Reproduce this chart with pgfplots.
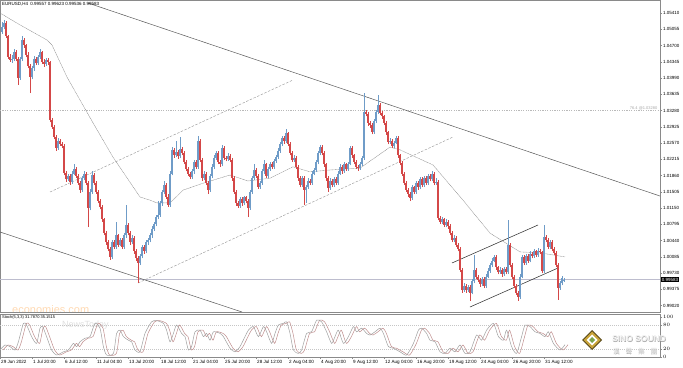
\documentclass[border=0pt]{standalone}
\usepackage{pgfplots}
\pgfplotsset{compat=1.18}
\usepackage{pgfplotstable}
\usepackage{fontspec}
\setmainfont{Liberation Sans}
\newfontfamily\cjk{Noto Sans CJK TC}
\definecolor{bull}{HTML}{6F9CC8}
\definecolor{bear}{HTML}{D44848}
\definecolor{axgray}{HTML}{8A8A8A}
\definecolor{goldA}{HTML}{C9A43A}
\definecolor{goldB}{HTML}{5A4A1A}
\definecolor{greenL}{HTML}{7AA34A}

\pgfplotstableread{
b o h l c
1 1.0500 1.0522 1.0496 1.0510
2 1.0510 1.0526 1.0505 1.0519
3 1.0519 1.0523 1.0486 1.0490
4 1.0490 1.0494 1.0440 1.0445
5 1.0445 1.0452 1.0434 1.0438
6 1.0438 1.0450 1.0432 1.0441
7 1.0441 1.0462 1.0437 1.0456
8 1.0456 1.0460 1.0436 1.0440
9 1.0440 1.0444 1.0384 1.0399
10 1.0399 1.0445 1.0395 1.0440
11 1.0440 1.0490 1.0436 1.0482
12 1.0482 1.0486 1.0465 1.0470
13 1.0470 1.0474 1.0444 1.0450
14 1.0450 1.0455 1.0420 1.0425
15 1.0425 1.0430 1.0366 1.0401
16 1.0401 1.0425 1.0396 1.0420
17 1.0420 1.0446 1.0415 1.0440
18 1.0440 1.0444 1.0427 1.0432
19 1.0432 1.0450 1.0428 1.0445
20 1.0445 1.0462 1.0440 1.0455
21 1.0455 1.0458 1.0430 1.0435
22 1.0435 1.0440 1.0424 1.0430
23 1.0430 1.0443 1.0426 1.0438
24 1.0438 1.0442 1.0428 1.0434
25 1.0434 1.0437 1.0302 1.0307
26 1.0307 1.0312 1.0288 1.0292
27 1.0292 1.0296 1.0265 1.0270
28 1.0270 1.0274 1.0240 1.0246
29 1.0246 1.0268 1.0242 1.0262
30 1.0262 1.0266 1.0250 1.0255
31 1.0255 1.0259 1.0245 1.0250
32 1.0250 1.0254 1.0186 1.0191
33 1.0191 1.0196 1.0172 1.0178
34 1.0178 1.0190 1.0174 1.0185
35 1.0185 1.0189 1.0166 1.0172
36 1.0172 1.0195 1.0168 1.0190
37 1.0190 1.0210 1.0186 1.0200
38 1.0200 1.0204 1.0180 1.0185
39 1.0185 1.0189 1.0165 1.0170
40 1.0170 1.0174 1.0148 1.0154
41 1.0154 1.0185 1.0150 1.0180
42 1.0180 1.0196 1.0176 1.0190
43 1.0190 1.0194 1.0165 1.0170
44 1.0170 1.0174 1.0073 1.0115
45 1.0115 1.0156 1.0110 1.0150
46 1.0150 1.0195 1.0146 1.0187
47 1.0187 1.0191 1.0165 1.0170
48 1.0170 1.0175 1.0145 1.0150
49 1.0150 1.0154 1.0125 1.0130
50 1.0130 1.0135 1.0112 1.0117
51 1.0117 1.0121 1.0085 1.0090
52 1.0090 1.0094 1.0055 1.0060
53 1.0060 1.0064 1.0035 1.0040
54 1.0040 1.0045 1.0020 1.0025
55 1.0025 1.0029 1.0002 1.0008
56 1.0008 1.0045 1.0004 1.0040
57 1.0040 1.0044 1.0025 1.0030
58 1.0030 1.0085 1.0026 1.0055
59 1.0055 1.0059 1.0030 1.0035
60 1.0035 1.0050 1.0031 1.0045
61 1.0045 1.0049 1.0025 1.0030
62 1.0030 1.0060 1.0026 1.0055
63 1.0055 1.0121 1.0050 1.0078
64 1.0078 1.0082 1.0055 1.0060
65 1.0060 1.0064 1.0035 1.0040
66 1.0040 1.0055 1.0036 1.0050
67 1.0050 1.0054 1.0015 1.0020
68 1.0020 1.0025 1.0000 1.0005
69 1.0005 1.0010 0.9952 0.9995
70 0.9995 1.0015 0.9990 1.0010
71 1.0010 1.0035 1.0005 1.0030
72 1.0030 1.0034 1.0015 1.0020
73 1.0020 1.0045 1.0016 1.0040
74 1.0040 1.0050 1.0035 1.0045
75 1.0045 1.0060 1.0040 1.0055
76 1.0055 1.0075 1.0050 1.0070
77 1.0070 1.0085 1.0065 1.0080
78 1.0080 1.0100 1.0075 1.0095
79 1.0095 1.0130 1.0090 1.0100
80 1.0100 1.0130 1.0096 1.0125
81 1.0125 1.0155 1.0120 1.0150
82 1.0150 1.0175 1.0145 1.0165
83 1.0165 1.0169 1.0135 1.0140
84 1.0140 1.0145 1.0118 1.0122
85 1.0122 1.0195 1.0118 1.0190
86 1.0190 1.0248 1.0186 1.0242
87 1.0242 1.0246 1.0225 1.0230
88 1.0230 1.0262 1.0226 1.0238
89 1.0238 1.0242 1.0222 1.0228
90 1.0228 1.0270 1.0224 1.0244
91 1.0244 1.0248 1.0230 1.0236
92 1.0236 1.0240 1.0210 1.0215
93 1.0215 1.0219 1.0195 1.0200
94 1.0200 1.0204 1.0185 1.0190
95 1.0190 1.0194 1.0178 1.0183
96 1.0183 1.0200 1.0179 1.0195
97 1.0195 1.0220 1.0190 1.0215
98 1.0215 1.0219 1.0200 1.0205
99 1.0205 1.0272 1.0200 1.0262
100 1.0262 1.0266 1.0215 1.0220
101 1.0220 1.0224 1.0175 1.0180
102 1.0180 1.0195 1.0176 1.0190
103 1.0190 1.0194 1.0165 1.0170
104 1.0170 1.0174 1.0145 1.0154
105 1.0154 1.0190 1.0150 1.0185
106 1.0185 1.0210 1.0180 1.0205
107 1.0205 1.0230 1.0200 1.0225
108 1.0225 1.0240 1.0220 1.0235
109 1.0235 1.0239 1.0210 1.0215
110 1.0215 1.0219 1.0205 1.0210
111 1.0210 1.0252 1.0206 1.0246
112 1.0246 1.0250 1.0220 1.0225
113 1.0225 1.0229 1.0217 1.0222
114 1.0222 1.0235 1.0218 1.0228
115 1.0228 1.0232 1.0215 1.0220
116 1.0220 1.0224 1.0175 1.0180
117 1.0180 1.0184 1.0145 1.0150
118 1.0150 1.0154 1.0120 1.0125
119 1.0125 1.0130 1.0115 1.0120
120 1.0120 1.0140 1.0116 1.0135
121 1.0135 1.0139 1.0120 1.0125
122 1.0125 1.0142 1.0121 1.0138
123 1.0138 1.0142 1.0125 1.0130
124 1.0130 1.0134 1.0095 1.0115
125 1.0115 1.0155 1.0111 1.0150
126 1.0150 1.0185 1.0146 1.0180
127 1.0180 1.0210 1.0176 1.0198
128 1.0198 1.0202 1.0180 1.0185
129 1.0185 1.0189 1.0156 1.0161
130 1.0161 1.0175 1.0157 1.0170
131 1.0170 1.0200 1.0166 1.0195
132 1.0195 1.0220 1.0190 1.0210
133 1.0210 1.0214 1.0180 1.0185
134 1.0185 1.0205 1.0181 1.0200
135 1.0200 1.0216 1.0196 1.0212
136 1.0212 1.0216 1.0200 1.0205
137 1.0205 1.0222 1.0201 1.0218
138 1.0218 1.0230 1.0214 1.0226
139 1.0226 1.0245 1.0222 1.0240
140 1.0240 1.0260 1.0236 1.0255
141 1.0255 1.0272 1.0250 1.0268
142 1.0268 1.0272 1.0255 1.0262
143 1.0262 1.0287 1.0258 1.0278
144 1.0278 1.0282 1.0250 1.0255
145 1.0255 1.0259 1.0230 1.0235
146 1.0235 1.0239 1.0215 1.0220
147 1.0220 1.0230 1.0216 1.0225
148 1.0225 1.0229 1.0200 1.0205
149 1.0205 1.0209 1.0175 1.0180
150 1.0180 1.0184 1.0160 1.0165
151 1.0165 1.0185 1.0161 1.0180
152 1.0180 1.0184 1.0121 1.0155
153 1.0155 1.0165 1.0126 1.0160
154 1.0160 1.0180 1.0156 1.0175
155 1.0175 1.0179 1.0165 1.0170
156 1.0170 1.0195 1.0166 1.0190
157 1.0190 1.0202 1.0186 1.0198
158 1.0198 1.0220 1.0194 1.0215
159 1.0215 1.0240 1.0210 1.0235
160 1.0235 1.0252 1.0230 1.0248
161 1.0248 1.0252 1.0230 1.0235
162 1.0235 1.0239 1.0205 1.0210
163 1.0210 1.0214 1.0175 1.0180
164 1.0180 1.0184 1.0150 1.0159
165 1.0159 1.0180 1.0155 1.0175
166 1.0175 1.0179 1.0160 1.0165
167 1.0165 1.0182 1.0161 1.0178
168 1.0178 1.0182 1.0165 1.0170
169 1.0170 1.0195 1.0166 1.0190
170 1.0190 1.0210 1.0186 1.0205
171 1.0205 1.0209 1.0190 1.0195
172 1.0195 1.0215 1.0191 1.0210
173 1.0210 1.0214 1.0196 1.0200
174 1.0200 1.0216 1.0196 1.0212
175 1.0212 1.0250 1.0208 1.0246
176 1.0246 1.0250 1.0225 1.0230
177 1.0230 1.0234 1.0210 1.0215
178 1.0215 1.0219 1.0200 1.0205
179 1.0205 1.0209 1.0196 1.0202
180 1.0202 1.0215 1.0198 1.0210
181 1.0210 1.0228 1.0206 1.0224
182 1.0224 1.0366 1.0220 1.0325
183 1.0325 1.0330 1.0315 1.0320
184 1.0320 1.0324 1.0295 1.0300
185 1.0300 1.0304 1.0290 1.0296
186 1.0296 1.0300 1.0276 1.0281
187 1.0281 1.0310 1.0277 1.0305
188 1.0305 1.0330 1.0300 1.0325
189 1.0325 1.0362 1.0320 1.0340
190 1.0340 1.0345 1.0318 1.0322
191 1.0322 1.0326 1.0310 1.0315
192 1.0315 1.0319 1.0296 1.0301
193 1.0301 1.0305 1.0275 1.0280
194 1.0280 1.0284 1.0254 1.0259
195 1.0259 1.0268 1.0255 1.0262
196 1.0262 1.0266 1.0245 1.0250
197 1.0250 1.0262 1.0246 1.0258
198 1.0258 1.0272 1.0254 1.0268
199 1.0268 1.0272 1.0225 1.0230
200 1.0230 1.0234 1.0208 1.0213
201 1.0213 1.0217 1.0185 1.0190
202 1.0190 1.0194 1.0165 1.0170
203 1.0170 1.0174 1.0150 1.0154
204 1.0154 1.0158 1.0140 1.0145
205 1.0145 1.0149 1.0130 1.0137
206 1.0137 1.0165 1.0133 1.0160
207 1.0160 1.0164 1.0145 1.0150
208 1.0150 1.0175 1.0146 1.0170
209 1.0170 1.0174 1.0155 1.0160
210 1.0160 1.0183 1.0156 1.0178
211 1.0178 1.0182 1.0160 1.0165
212 1.0165 1.0185 1.0161 1.0180
213 1.0180 1.0184 1.0165 1.0170
214 1.0170 1.0190 1.0166 1.0185
215 1.0185 1.0189 1.0173 1.0178
216 1.0178 1.0195 1.0174 1.0190
217 1.0190 1.0194 1.0165 1.0170
218 1.0170 1.0180 1.0166 1.0172
219 1.0172 1.0176 1.0088 1.0093
220 1.0093 1.0097 1.0080 1.0085
221 1.0085 1.0095 1.0081 1.0090
222 1.0090 1.0094 1.0073 1.0078
223 1.0078 1.0090 1.0074 1.0085
224 1.0085 1.0089 1.0070 1.0075
225 1.0075 1.0079 1.0055 1.0060
226 1.0060 1.0064 1.0040 1.0045
227 1.0045 1.0055 1.0041 1.0050
228 1.0050 1.0054 1.0030 1.0035
229 1.0035 1.0039 1.0020 1.0025
230 1.0025 1.0029 0.9975 0.9980
231 0.9980 0.9984 0.9930 0.9936
232 0.9936 0.9950 0.9932 0.9945
233 0.9945 0.9949 0.9930 0.9935
234 0.9935 0.9947 0.9931 0.9942
235 0.9942 0.9946 0.9912 0.9930
236 0.9930 0.9960 0.9926 0.9955
237 0.9955 1.0012 0.9950 0.9980
238 0.9980 0.9984 0.9960 0.9965
239 0.9965 0.9969 0.9953 0.9958
240 0.9958 0.9962 0.9943 0.9948
241 0.9948 0.9965 0.9944 0.9960
242 0.9960 0.9964 0.9940 0.9945
243 0.9945 0.9970 0.9941 0.9965
244 0.9965 0.9983 0.9961 0.9978
245 0.9978 0.9995 0.9974 0.9990
246 0.9990 1.0005 0.9986 1.0000
247 1.0000 1.0013 0.9996 1.0008
248 1.0008 1.0012 0.9980 0.9985
249 0.9985 0.9989 0.9970 0.9975
250 0.9975 0.9985 0.9971 0.9980
251 0.9980 0.9984 0.9965 0.9970
252 0.9970 0.9987 0.9966 0.9982
253 0.9982 0.9986 0.9970 0.9975
254 0.9975 1.0089 0.9971 1.0034
255 1.0034 1.0038 0.9985 0.9990
256 0.9990 0.9994 0.9960 0.9965
257 0.9965 0.9969 0.9940 0.9945
258 0.9945 0.9949 0.9925 0.9930
259 0.9930 0.9934 0.9912 0.9920
260 0.9920 0.9970 0.9916 0.9965
261 0.9965 1.0012 0.9961 1.0008
262 1.0008 1.0012 0.9990 0.9995
263 0.9995 1.0015 0.9991 1.0010
264 1.0010 1.0014 0.9995 1.0000
265 1.0000 1.0020 0.9996 1.0015
266 1.0015 1.0019 1.0005 1.0010
267 1.0010 1.0025 1.0006 1.0020
268 1.0020 1.0024 1.0008 1.0012
269 1.0012 1.0027 1.0008 1.0022
270 1.0022 1.0026 1.0014 1.0018
271 1.0018 1.0022 0.9972 0.9978
272 0.9978 1.0078 0.9974 1.0052
273 1.0052 1.0056 1.0040 1.0045
274 1.0045 1.0049 1.0025 1.0030
275 1.0030 1.0045 1.0026 1.0040
276 1.0040 1.0044 1.0020 1.0025
277 1.0025 1.0029 1.0012 1.0017
278 1.0017 1.0021 0.9985 0.9990
279 0.9990 0.9994 0.9914 0.9940
280 0.9940 0.9955 0.9936 0.9950
281 0.9950 0.9966 0.9946 0.9962
282 0.99557 0.99623 0.99536 0.99583
}\candles

\pgfplotstableread{
x k
0 17.5
2.5 30
5 26
7.5 17.5
9.2 38
11.7 84
13.3 80
15.8 51
18.3 34
20 72
21.3 76
23.3 51
25.8 17.5
28.3 5
31.7 13
34.2 17.5
36.7 34
38.3 26
40 38
42.5 47
45 51
47.5 84
50 72
51.7 26
53.3 5
56.7 9
58.3 59
60 67
61.7 51
64.2 42
65.8 38
67.5 17.5
70 13
72.5 59
75.8 88
78.3 91
81.7 84
83.3 67
85 38
86.7 59
88.3 80
90.8 59
92.5 51
94.2 17.5
95.8 26
97.5 63
100 67
101.7 51
103.3 59
105 42
106.7 63
110 59
111.7 51
115 22
117.5 13
120 26
122.5 51
124.2 67
126.7 76
129.2 51
131.7 76
133.3 63
135.8 34
137.5 59
139.2 80
141.7 84
143.3 88
145 59
146.7 17.5
149.2 9
150.8 17.5
153.3 59
155.8 63
158.3 92
160.8 88
163.3 63
165.8 34
167.5 51
169.2 67
171.7 34
174.2 51
176.7 76
178.3 63
180.8 72
183.3 59
185 55
187.5 63
190 72
191.7 59
194.2 26
196.7 22
200 13
203.3 5
206.7 34
209.2 67
210.8 72
213.3 59
215 42
217.5 38
220 13
222.5 9
225 22
227.5 13
230 30
232.5 9
235 13
238.3 55
240.8 42
243.3 67
246.7 84
249.2 51
251.7 42
253.3 67
255.8 26
258.3 9
260.8 51
262.5 80
265 76
267.5 63
270 59
272.5 51
274.2 63
276.7 34
280 17.5
282.5 31
}\stoch

\begin{document}
\begin{tikzpicture}[x=1pt,y=1pt]
\path[use as bounding box] (0,0) rectangle (683,367);

% watermark behind
\node[anchor=west, font=\fontsize{11}{12}\selectfont, text=orange!30, inner sep=0pt] at (12,57) {economies.com};
\node[anchor=west, font=\fontsize{9}{10}\selectfont, text=gray!25, inner sep=0pt] at (62,42) {NewsToday};

\begin{axis}[
  at={(0pt,55pt)}, anchor=south west, scale only axis,
  width=660pt, height=312pt,
  xmin=0, xmax=330, ymin=0.98877, ymax=1.05694,
  axis line style={axgray, line width=0.6pt},
  xtick=\empty,
  ytick={0.9902,0.99375,0.9973,1.00085,1.0044,1.00795,1.0115,1.01505,1.0186,1.02215,1.0257,1.02925,1.0328,1.03635,1.0399,1.04345,1.047,1.05055,1.0541},
  ytick pos=right, yticklabel pos=right,
  tick align=outside, major tick length=2pt,
  ytick style={axgray, line width=0.4pt},
  scaled y ticks=false,
  yticklabel style={font=\fontsize{4.5}{5}\selectfont, inner sep=1pt,
    /pgf/number format/.cd, fixed, fixed zerofill, precision=5, assume math mode=true},
  clip mode=individual,
]
% horizontal levels
\addplot[gray!55, dash pattern=on 1.2pt off 1.2pt, line width=0.4pt] coordinates {(0,1.0328) (330,1.0328)};
\addplot[blue!15!gray!45, line width=0.4pt] coordinates {(0,0.99583) (330,0.99583)};
% trend lines
\addplot[black!65, line width=0.5pt] coordinates {(44,1.05628) (330,1.01411)};
\addplot[black!65, line width=0.5pt] coordinates {(0,1.00625) (121,0.98877)};
\addplot[gray!80, dash pattern=on 2.5pt off 1.5pt, line width=0.45pt] coordinates {(25,1.01499) (146.5,1.03946)};
\addplot[gray!80, dash pattern=on 2.5pt off 1.5pt, line width=0.45pt] coordinates {(69,0.99511) (226.5,1.02701)};
\addplot[black!80, line width=0.55pt] coordinates {(226,0.99948) (269,1.00778)};
\addplot[black!80, line width=0.55pt] coordinates {(235,0.98986) (279,0.99838)};
% moving average
\addplot[gray!90, line width=0.4pt, dash pattern=on 1pt off 0.5pt] coordinates {
(0,1.0541) (10,1.0515) (23.5,1.0482) (26,1.0471) (33.5,1.0401) (46.5,1.0301)
(56.5,1.0226) (70,1.0139) (75,1.0132) (78.5,1.0126) (85,1.0126) (91.5,1.0154)
(101.5,1.0169) (115,1.0187) (124,1.0174) (135,1.0180) (146.5,1.0205) (155,1.0194)
(165,1.0198) (180,1.0202) (195,1.0248) (200,1.0242) (216.5,1.0209) (231.5,1.0132)
(245,1.0060) (260,1.0019) (270,1.0017) (282.5,1.0008)};
% candles: wicks
\addplot[bull, line width=0.5pt, quiver={u=0, v=\thisrow{h}-\thisrow{l}},
  restrict expr to domain={\thisrow{c}-\thisrow{o}}{0:1}] table[x=b, y=l] {\candles};
\addplot[bear, line width=0.5pt, quiver={u=0, v=\thisrow{h}-\thisrow{l}},
  restrict expr to domain={\thisrow{c}-\thisrow{o}}{-1:0}] table[x=b, y=l] {\candles};
% candles: bodies
\addplot[bull, line width=1.5pt, quiver={u=0, v=\thisrow{c}-\thisrow{o}},
  restrict expr to domain={\thisrow{c}-\thisrow{o}}{0:1}] table[x=b, y=o] {\candles};
\addplot[bear, line width=1.5pt, quiver={u=0, v=\thisrow{c}-\thisrow{o}},
  restrict expr to domain={\thisrow{c}-\thisrow{o}}{-1:0}] table[x=b, y=o] {\candles};
% texts
\node[anchor=north west, font=\fontsize{4.5}{5}\selectfont, inner sep=0pt] at (rel axis cs:0.003,0.993) {EURUSD,H4\enspace 0.99557 0.99623 0.99536 0.99583};
\node[anchor=south east, font=\fontsize{4}{4.5}\selectfont, text=gray!70, inner sep=0.5pt] at (axis cs:329,1.0328) {76.4 @1.03280};
\node[anchor=west, fill=black, text=white, font=\fontsize{4.5}{5}\selectfont, inner sep=0.7pt] at (axis cs:330.5,0.99583) {0.99583};
\end{axis}

\begin{axis}[
  at={(0pt,10pt)}, anchor=south west, scale only axis,
  width=660pt, height=43pt,
  xmin=0, xmax=330, ymin=0, ymax=107.5,
  axis line style={axgray, line width=0.6pt},
  xtick={0,16,...,272},
  xticklabels={29 Jun 2022,1 Jul 20:00,6 Jul 12:00,11 Jul 04:00,13 Jul 20:00,18 Jul 12:00,21 Jul 04:00,25 Jul 20:00,28 Jul 12:00,2 Aug 04:00,4 Aug 20:00,9 Aug 12:00,12 Aug 04:00,16 Aug 20:00,19 Aug 12:00,24 Aug 04:00,26 Aug 20:00,31 Aug 12:00},
  xtick pos=bottom,
  xticklabel style={font=\fontsize{4.6}{5}\selectfont, anchor=north west, inner sep=1pt},
  ytick={0,20,80,100},
  ytick pos=right, yticklabel pos=right,
  yticklabel style={font=\fontsize{4}{4.5}\selectfont, inner sep=1pt},
  tick align=outside, major tick length=2pt,
  tick style={axgray, line width=0.4pt},
  clip mode=individual,
]
\addplot[gray!45, dash pattern=on 1pt off 1pt, line width=0.4pt] coordinates {(0,80) (330,80)};
\addplot[gray!45, dash pattern=on 1pt off 1pt, line width=0.4pt] coordinates {(0,20) (330,20)};
\addplot[color={rgb,255:red,190;green,140;blue,140}, line width=0.5pt, smooth, tension=0.4] table[x expr=\thisrow{x}+1.5, y=k] {\stoch};
\addplot[gray!75, line width=0.5pt, smooth, tension=0.4] table[x=x, y=k] {\stoch};
\node[anchor=north west, font=\fontsize{4}{4.5}\selectfont, inner sep=0pt] at (rel axis cs:0.003,0.96) {Stoch(5,3,3) 31.7870 35.1515};
\end{axis}

% logo
\fill[goldB] (592,37) -- (602,27) -- (592,17) -- (582,27) -- cycle;
\fill[goldA] (592,35.5) -- (600.5,27) -- (592,18.5) -- (583.5,27) -- cycle;
\fill[white] (592,32.5) -- (597.5,27) -- (592,21.5) -- (586.5,27) -- cycle;
\fill[greenL] (592,30) -- (595,27) -- (592,24) -- (589,27) -- cycle;
\node[font=\bfseries\fontsize{8.5}{9}\selectfont, text=gray!65] at (639.5,27.5) {SINO SOUND};
\node[font=\bfseries\fontsize{8.5}{9}\selectfont, text=gray!12] at (639,28) {SINO SOUND};
\node[font=\cjk\fontsize{6.5}{7}\selectfont, text=gray!70, inner sep=0pt] at (635.4,15.1) {漢\hspace{6pt}聲\hspace{6pt}集\hspace{6pt}團};
\node[font=\cjk\fontsize{6.5}{7}\selectfont, text=gray!20, inner sep=0pt] at (635,15.5) {漢\hspace{6pt}聲\hspace{6pt}集\hspace{6pt}團};
\end{tikzpicture}
\end{document}
